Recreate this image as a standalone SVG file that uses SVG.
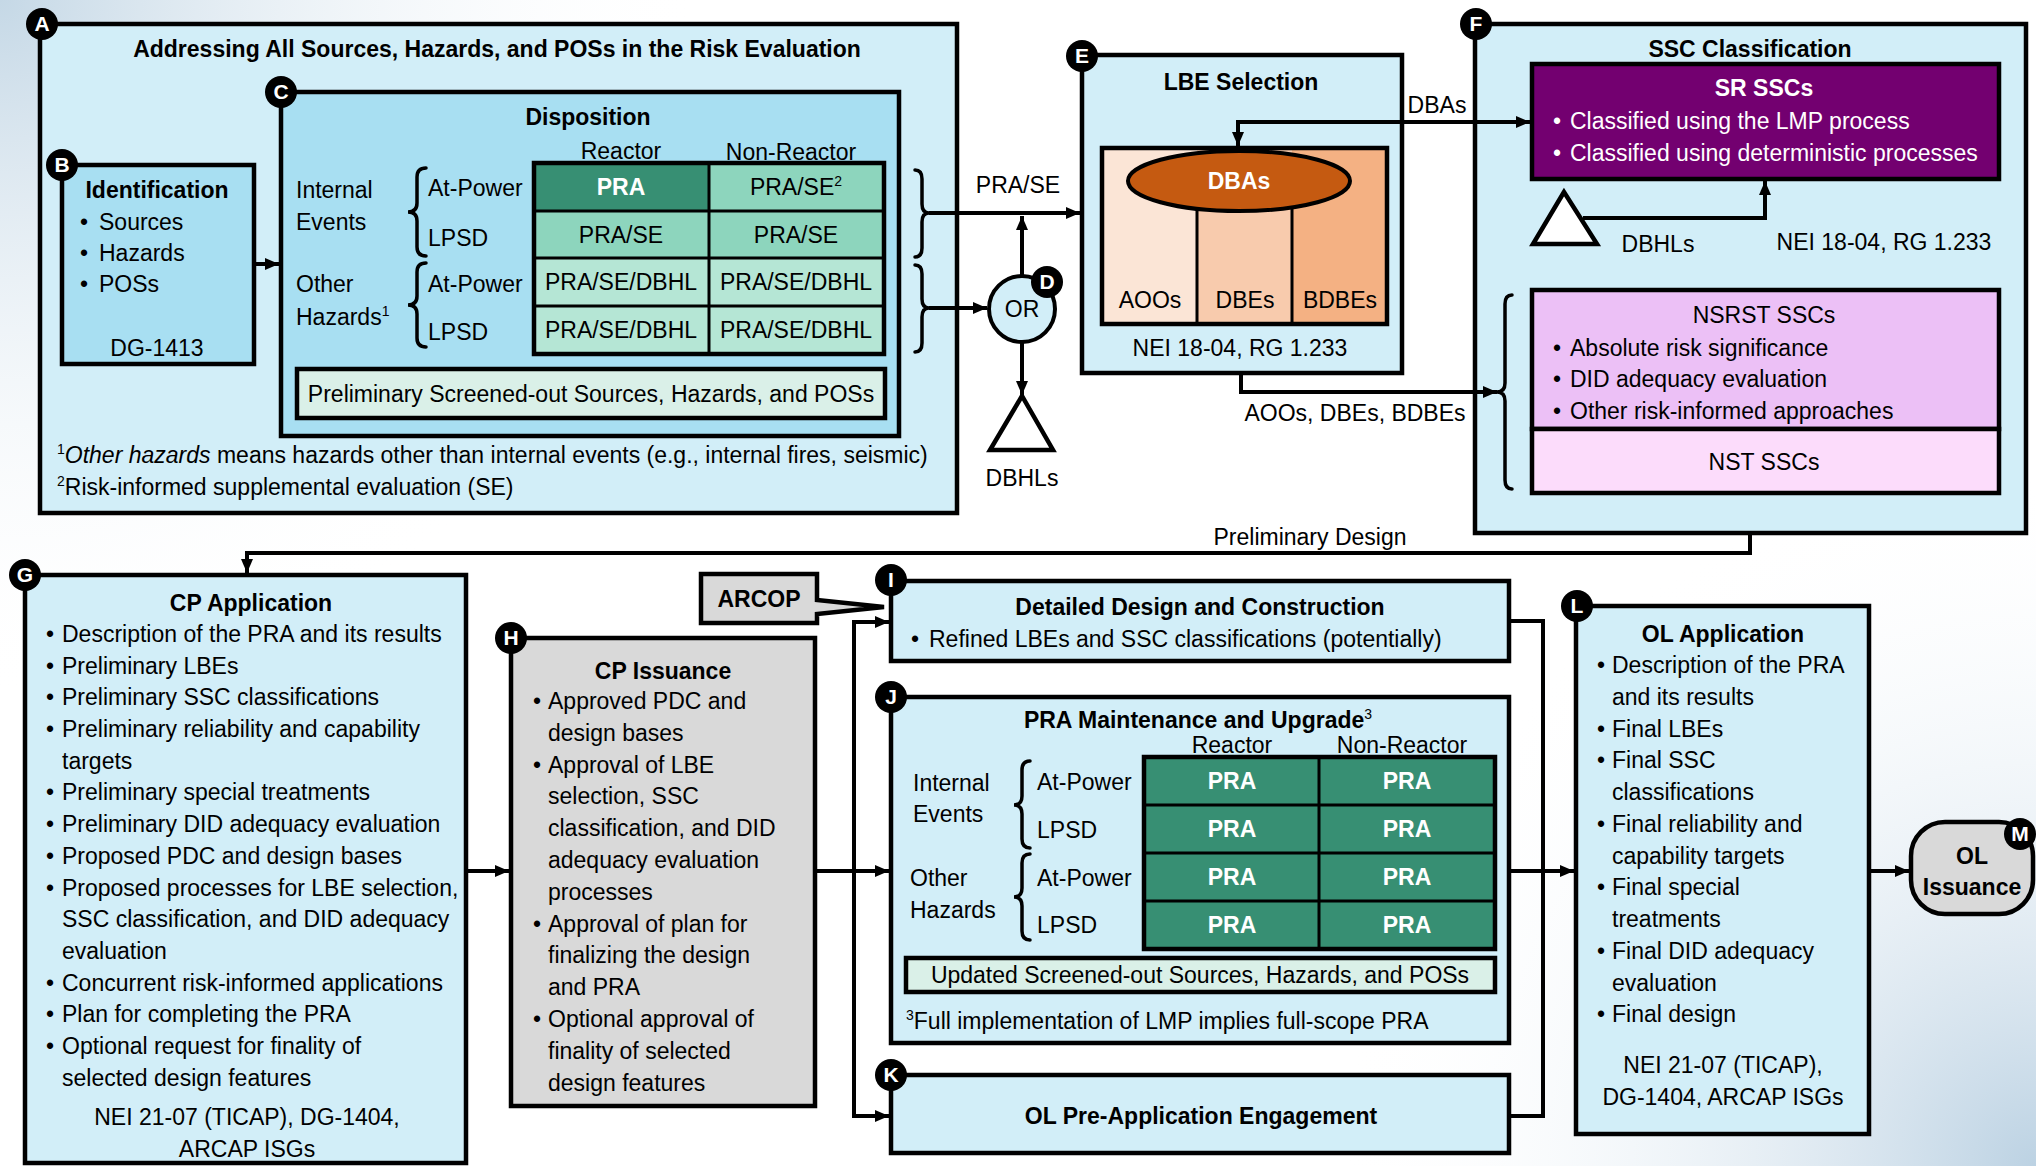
<svg xmlns="http://www.w3.org/2000/svg" width="2036" height="1166" viewBox="0 0 2036 1166">
<defs>
<radialGradient id="bgTL" cx="0" cy="0" r="700" gradientUnits="userSpaceOnUse">
<stop offset="0" stop-color="#c5d8e6"/><stop offset="1" stop-color="#ffffff" stop-opacity="0"/>
</radialGradient>
<radialGradient id="bgBR" cx="2036" cy="1166" r="700" gradientUnits="userSpaceOnUse">
<stop offset="0" stop-color="#bcd2e3"/><stop offset="1" stop-color="#ffffff" stop-opacity="0"/>
</radialGradient>
<marker id="ah" viewBox="0 0 14 12" refX="14" refY="6" markerWidth="14" markerHeight="12" markerUnits="userSpaceOnUse" orient="auto"><path d="M0,0 L14,6 L0,12 Z" fill="#000"/></marker>
<marker id="ahs" viewBox="0 0 14 12" refX="14" refY="6" markerWidth="14" markerHeight="12" markerUnits="userSpaceOnUse" orient="auto-start-reverse"><path d="M0,0 L14,6 L0,12 Z" fill="#000"/></marker>
<style>
text{font-family:"Liberation Sans",Arial,sans-serif;font-size:23px;fill:#000}
.b{font-weight:bold}
.m{text-anchor:middle}
.w{fill:#fff}
.sup{font-size:14px}
.box{stroke:#000;stroke-width:4.5}
.lt{fill:#d2eef8}
.dk{fill:#a8dff2}
.gy{fill:#d9d9d9}
.g1{fill:#378f73}
.g2{fill:#8dd5bd}
.g3{fill:#b5e6d5}
.g4{fill:#daf0e8}
.ln{stroke:#000;stroke-width:4;fill:none}
.gl{stroke:#000;stroke-width:3;fill:none}
.br{stroke:#000;stroke-width:3.5;fill:none;stroke-linecap:round}
.bd circle{fill:#000}
.bd text{fill:#fff;font-weight:bold;font-size:21px;text-anchor:middle}
</style>
</defs>
<rect x="0" y="0" width="2036" height="1166" fill="#ffffff"/>
<rect x="0" y="0" width="2036" height="1166" fill="url(#bgTL)"/>
<rect x="0" y="0" width="2036" height="1166" fill="url(#bgBR)"/>

<g id="A">
<rect class="box lt" x="40" y="24" width="917" height="489"/>
<text class="b m" x="497" y="57">Addressing All Sources, Hazards, and POSs in the Risk Evaluation</text>
<text x="57" y="463"><tspan class="sup" dy="-9">1</tspan><tspan dy="9" font-style="italic">Other hazards</tspan> means hazards other than internal events (e.g., internal fires, seismic)</text>
<text x="57" y="495"><tspan class="sup" dy="-9">2</tspan><tspan dy="9">Risk-informed supplemental evaluation (SE)</tspan></text>
<g class="bd"><circle cx="42" cy="24" r="16"/><text x="42" y="31">A</text></g>
</g>

<g id="B">
<rect class="box dk" x="62" y="165" width="192" height="199"/>
<text class="b m" x="157" y="198">Identification</text>
<text x="80" y="230">•</text><text x="99" y="230">Sources</text>
<text x="80" y="261">•</text><text x="99" y="261">Hazards</text>
<text x="80" y="292">•</text><text x="99" y="292">POSs</text>
<text class="m" x="157" y="356">DG-1413</text>
<g class="bd"><circle cx="62" cy="165" r="16"/><text x="62" y="172">B</text></g>
</g>

<g id="C">
<rect class="box dk" x="281" y="92" width="618" height="344"/>
<text class="b m" x="588" y="125">Disposition</text>
<text class="m" x="621" y="159">Reactor</text>
<text class="m" x="791" y="160">Non-Reactor</text>
<rect class="g1" x="534" y="163" width="175" height="48"/>
<rect class="g2" x="709" y="163" width="175" height="48"/>
<rect class="g2" x="534" y="211" width="350" height="47"/>
<rect class="g3" x="534" y="258" width="350" height="96"/>
<path class="gl" d="M709,163 V354 M534,211 H884 M534,258 H884 M534,306 H884"/>
<rect x="534" y="163" width="350" height="191" fill="none" stroke="#000" stroke-width="4.5"/>
<text class="b m w" x="621" y="195">PRA</text>
<text class="m" x="796" y="195">PRA/SE<tspan class="sup" dy="-9">2</tspan></text>
<text class="m" x="621" y="243">PRA/SE</text>
<text class="m" x="796" y="243">PRA/SE</text>
<text class="m" x="621" y="290">PRA/SE/DBHL</text>
<text class="m" x="796" y="290">PRA/SE/DBHL</text>
<text class="m" x="621" y="338">PRA/SE/DBHL</text>
<text class="m" x="796" y="338">PRA/SE/DBHL</text>
<text x="296" y="198">Internal</text>
<text x="296" y="230">Events</text>
<text x="296" y="292">Other</text>
<text x="296" y="325">Hazards<tspan class="sup" dy="-9">1</tspan></text>
<path class="br" d="M426,168 Q417,168 417,177 V203 Q417,212 408,212 Q417,212 417,221 V247 Q417,256 426,256"/>
<path class="br" d="M426,263 Q417,263 417,272 V296 Q417,305 408,305 Q417,305 417,314 V338 Q417,347 426,347"/>
<text x="428" y="196">At-Power</text>
<text x="428" y="246">LPSD</text>
<text x="428" y="292">At-Power</text>
<text x="428" y="340">LPSD</text>
<rect class="box g4" x="297" y="369" width="588" height="49"/>
<text class="m" x="591" y="402">Preliminary Screened-out Sources, Hazards, and POSs</text>
<g class="bd"><circle cx="281" cy="92" r="16"/><text x="281" y="99">C</text></g>
</g>

<g id="D">
<circle cx="1022" cy="309" r="33" fill="#d2eef8" stroke="#000" stroke-width="4"/>
<text class="m" x="1022" y="317">OR</text>
<g class="bd"><circle cx="1047" cy="282" r="16"/><text x="1047" y="289">D</text></g>
</g>

<g id="DBHL1">
<path d="M1022,396 L990,450 L1053,450 Z" fill="#fff" stroke="#000" stroke-width="4.5" stroke-linejoin="miter"/>
<text class="m" x="1022" y="486">DBHLs</text>
</g>

<g id="E">
<rect class="box lt" x="1082" y="55" width="320" height="318"/>
<text class="b m" x="1241" y="90">LBE Selection</text>
<rect x="1102" y="148" width="95" height="176" fill="#fbe5d6"/>
<rect x="1197" y="148" width="95" height="176" fill="#f8cbad"/>
<rect x="1292" y="148" width="95" height="176" fill="#f4b183"/>
<path class="gl" d="M1197,190 V324 M1292,190 V324"/>
<rect x="1102" y="148" width="285" height="176" fill="none" stroke="#000" stroke-width="4.5"/>
<ellipse cx="1239" cy="181" rx="111" ry="30" fill="#c55a11" stroke="#000" stroke-width="4"/>
<text class="b m w" x="1239" y="189">DBAs</text>
<text class="m" x="1150" y="308">AOOs</text>
<text class="m" x="1245" y="308">DBEs</text>
<text class="m" x="1340" y="308">BDBEs</text>
<text class="m" x="1240" y="356">NEI 18-04, RG 1.233</text>
<g class="bd"><circle cx="1082" cy="56" r="16"/><text x="1082" y="63">E</text></g>
</g>

<g id="F">
<rect class="box lt" x="1475" y="24" width="551" height="509"/>
<text class="b m" x="1750" y="57">SSC Classification</text>
<rect class="box" x="1532" y="64" width="467" height="115" fill="#730070"/>
<text class="b m w" x="1764" y="96">SR SSCs</text>
<text class="w" x="1553" y="129">•</text><text class="w" x="1570" y="129">Classified using the LMP process</text>
<text class="w" x="1553" y="161">•</text><text class="w" x="1570" y="161">Classified using deterministic processes</text>
<path d="M1564,192 L1533,244 L1597,244 Z" fill="#fff" stroke="#000" stroke-width="4.5"/>
<text class="m" x="1658" y="252">DBHLs</text>
<text class="m" x="1884" y="250">NEI 18-04, RG 1.233</text>
<rect class="box" x="1532" y="290" width="467" height="139" fill="#ecc0f6"/>
<rect class="box" x="1532" y="429" width="467" height="64" fill="#fcdcfb"/>
<text class="m" x="1764" y="323">NSRST SSCs</text>
<text x="1553" y="356">•</text><text x="1570" y="356">Absolute risk significance</text>
<text x="1553" y="387">•</text><text x="1570" y="387">DID adequacy evaluation</text>
<text x="1553" y="419">•</text><text x="1570" y="419">Other risk-informed approaches</text>
<text class="m" x="1764" y="470">NST SSCs</text>
<path class="br" d="M1512,295 Q1505,295 1505,304 V383 Q1505,392 1497,392 Q1505,392 1505,401 V480 Q1505,489 1512,489"/>
<g class="bd"><circle cx="1476" cy="24" r="16"/><text x="1476" y="31">F</text></g>
</g>

<g id="G">
<rect class="box lt" x="25" y="575" width="441" height="588"/>
<text class="b m" x="251" y="611">CP Application</text>
<text x="46" y="642">•</text><text x="62" y="642">Description of the PRA and its results</text>
<text x="46" y="674">•</text><text x="62" y="674">Preliminary LBEs</text>
<text x="46" y="705">•</text><text x="62" y="705">Preliminary SSC classifications</text>
<text x="46" y="737">•</text><text x="62" y="737">Preliminary reliability and capability</text>
<text x="62" y="769">targets</text>
<text x="46" y="800">•</text><text x="62" y="800">Preliminary special treatments</text>
<text x="46" y="832">•</text><text x="62" y="832">Preliminary DID adequacy evaluation</text>
<text x="46" y="864">•</text><text x="62" y="864">Proposed PDC and design bases</text>
<text x="46" y="896">•</text><text x="62" y="896">Proposed processes for LBE selection,</text>
<text x="62" y="927">SSC classification, and DID adequacy</text>
<text x="62" y="959">evaluation</text>
<text x="46" y="991">•</text><text x="62" y="991">Concurrent risk-informed applications</text>
<text x="46" y="1022">•</text><text x="62" y="1022">Plan for completing the PRA</text>
<text x="46" y="1054">•</text><text x="62" y="1054">Optional request for finality of</text>
<text x="62" y="1086">selected design features</text>
<text class="m" x="247" y="1125">NEI 21-07 (TICAP), DG-1404,</text>
<text class="m" x="247" y="1157">ARCAP ISGs</text>
<g class="bd"><circle cx="25" cy="575" r="16"/><text x="25" y="582">G</text></g>
</g>

<g id="H">
<rect class="box gy" x="511" y="638" width="304" height="468"/>
<text class="b m" x="663" y="679">CP Issuance</text>
<text x="533" y="709">•</text><text x="548" y="709">Approved PDC and</text>
<text x="548" y="741">design bases</text>
<text x="533" y="773">•</text><text x="548" y="773">Approval of LBE</text>
<text x="548" y="804">selection, SSC</text>
<text x="548" y="836">classification, and DID</text>
<text x="548" y="868">adequacy evaluation</text>
<text x="548" y="900">processes</text>
<text x="533" y="932">•</text><text x="548" y="932">Approval of plan for</text>
<text x="548" y="963">finalizing the design</text>
<text x="548" y="995">and PRA</text>
<text x="533" y="1027">•</text><text x="548" y="1027">Optional approval of</text>
<text x="548" y="1059">finality of selected</text>
<text x="548" y="1091">design features</text>
<g class="bd"><circle cx="511" cy="638" r="16"/><text x="511" y="645">H</text></g>
</g>

<g id="ARCOP">
<path class="gy" d="M701,574 H817 V600 L884,607 L817,614 V623 H701 Z" stroke="#000" stroke-width="4.5" stroke-linejoin="miter"/>
<text class="b m" x="759" y="607">ARCOP</text>
</g>

<g id="I">
<rect class="box lt" x="891" y="581" width="618" height="80"/>
<text class="b m" x="1200" y="615">Detailed Design and Construction</text>
<text x="911" y="647">•</text><text x="929" y="647">Refined LBEs and SSC classifications (potentially)</text>
<g class="bd"><circle cx="891" cy="580" r="16"/><text x="891" y="587">I</text></g>
</g>

<g id="J">
<rect class="box lt" x="891" y="697" width="618" height="346"/>
<text class="b m" x="1198" y="728" font-size="22">PRA Maintenance and Upgrade<tspan class="sup" font-weight="normal" dy="-9">3</tspan></text>
<text class="m" x="1232" y="753" font-size="22">Reactor</text>
<text class="m" x="1402" y="753" font-size="22">Non-Reactor</text>
<rect class="g1" x="1144" y="757" width="351" height="192"/>
<path class="gl" d="M1319,757 V949 M1144,805 H1495 M1144,853 H1495 M1144,901 H1495"/>
<rect x="1144" y="757" width="351" height="192" fill="none" stroke="#000" stroke-width="4.5"/>
<text class="b m w" x="1232" y="789">PRA</text><text class="b m w" x="1407" y="789">PRA</text>
<text class="b m w" x="1232" y="837">PRA</text><text class="b m w" x="1407" y="837">PRA</text>
<text class="b m w" x="1232" y="885">PRA</text><text class="b m w" x="1407" y="885">PRA</text>
<text class="b m w" x="1232" y="933">PRA</text><text class="b m w" x="1407" y="933">PRA</text>
<text x="913" y="791">Internal</text>
<text x="913" y="822">Events</text>
<text x="910" y="886">Other</text>
<text x="910" y="918">Hazards</text>
<path class="br" d="M1030,761 Q1022,761 1022,770 V796 Q1022,805 1014,805 Q1022,805 1022,814 V839 Q1022,848 1030,848"/>
<path class="br" d="M1030,854 Q1022,854 1022,863 V888 Q1022,897 1014,897 Q1022,897 1022,906 V931 Q1022,940 1030,940"/>
<text x="1037" y="790">At-Power</text>
<text x="1037" y="838">LPSD</text>
<text x="1037" y="886">At-Power</text>
<text x="1037" y="933">LPSD</text>
<rect class="box g4" x="906" y="958" width="589" height="34"/>
<text class="m" x="1200" y="983">Updated Screened-out Sources, Hazards, and POSs</text>
<text x="906" y="1029"><tspan class="sup" dy="-9">3</tspan><tspan dy="9">Full implementation of LMP implies full-scope PRA</tspan></text>
<g class="bd"><circle cx="891" cy="697" r="16"/><text x="891" y="704">J</text></g>
</g>

<g id="K">
<rect class="box lt" x="891" y="1075" width="618" height="78"/>
<text class="b m" x="1201" y="1124">OL Pre-Application Engagement</text>
<g class="bd"><circle cx="891" cy="1075" r="16"/><text x="891" y="1082">K</text></g>
</g>

<g id="L">
<rect class="box lt" x="1576" y="606" width="293" height="528"/>
<text class="b m" x="1723" y="642">OL Application</text>
<text x="1597" y="673">•</text><text x="1612" y="673">Description of the PRA</text>
<text x="1612" y="705">and its results</text>
<text x="1597" y="737">•</text><text x="1612" y="737">Final LBEs</text>
<text x="1597" y="768">•</text><text x="1612" y="768">Final SSC</text>
<text x="1612" y="800">classifications</text>
<text x="1597" y="832">•</text><text x="1612" y="832">Final reliability and</text>
<text x="1612" y="864">capability targets</text>
<text x="1597" y="895">•</text><text x="1612" y="895">Final special</text>
<text x="1612" y="927">treatments</text>
<text x="1597" y="959">•</text><text x="1612" y="959">Final DID adequacy</text>
<text x="1612" y="991">evaluation</text>
<text x="1597" y="1022">•</text><text x="1612" y="1022">Final design</text>
<text class="m" x="1723" y="1073">NEI 21-07 (TICAP),</text>
<text class="m" x="1723" y="1105">DG-1404, ARCAP ISGs</text>
<g class="bd"><circle cx="1577" cy="606" r="16"/><text x="1577" y="613">L</text></g>
</g>

<g id="M">
<rect class="gy" x="1911" y="822" width="122" height="92" rx="34" ry="34" stroke="#000" stroke-width="4.5"/>
<text class="b m" x="1972" y="864" font-size="22">OL</text>
<text class="b m" x="1972" y="895" font-size="22">Issuance</text>
<g class="bd"><circle cx="2020" cy="834" r="16"/><text x="2020" y="841">M</text></g>
</g>

<g id="connectors">
<path class="ln" d="M254,264 H279" marker-end="url(#ah)"/>
<path class="br" d="M915,170 Q922,170 922,179 V204 Q922,213 929,213 Q922,213 922,222 V248 Q922,257 915,257"/>
<path class="br" d="M915,265 Q922,265 922,274 V299 Q922,308 929,308 Q922,308 922,317 V343 Q922,352 915,352"/>
<path class="ln" d="M929,213 H1080" marker-end="url(#ah)"/>
<text class="m" x="1018" y="193">PRA/SE</text>
<path class="ln" d="M929,308 H987" marker-end="url(#ah)"/>
<path class="ln" d="M1022,276 V216" marker-end="url(#ah)"/>
<path class="ln" d="M1022,342 V395" marker-end="url(#ah)"/>
<path class="ln" d="M1238,146 V122 H1530" marker-start="url(#ahs)" marker-end="url(#ahs)"/>
<text class="m" x="1437" y="113">DBAs</text>
<path class="ln" d="M1583,218 H1765 V181" marker-end="url(#ah)"/>
<path class="ln" d="M1241,373 V392 H1497" marker-end="url(#ah)"/>
<text class="m" x="1355" y="421">AOOs, DBEs, BDBEs</text>
<path class="ln" d="M1750,533 V553 H247 V573" marker-end="url(#ah)"/>
<text class="m" x="1310" y="545">Preliminary Design</text>
<path class="ln" d="M466,871 H509" marker-end="url(#ah)"/>
<path class="ln" d="M815,871 H889" marker-end="url(#ah)"/>
<path class="ln" d="M889,622 H854 V1116 H889" marker-start="url(#ahs)" marker-end="url(#ah)"/>
<path class="ln" d="M1509,621 H1543 V1116 H1509"/>
<path class="ln" d="M1509,871 H1574" marker-end="url(#ah)"/>
<path class="ln" d="M1869,871 H1909" marker-end="url(#ah)"/>
</g>
</svg>
